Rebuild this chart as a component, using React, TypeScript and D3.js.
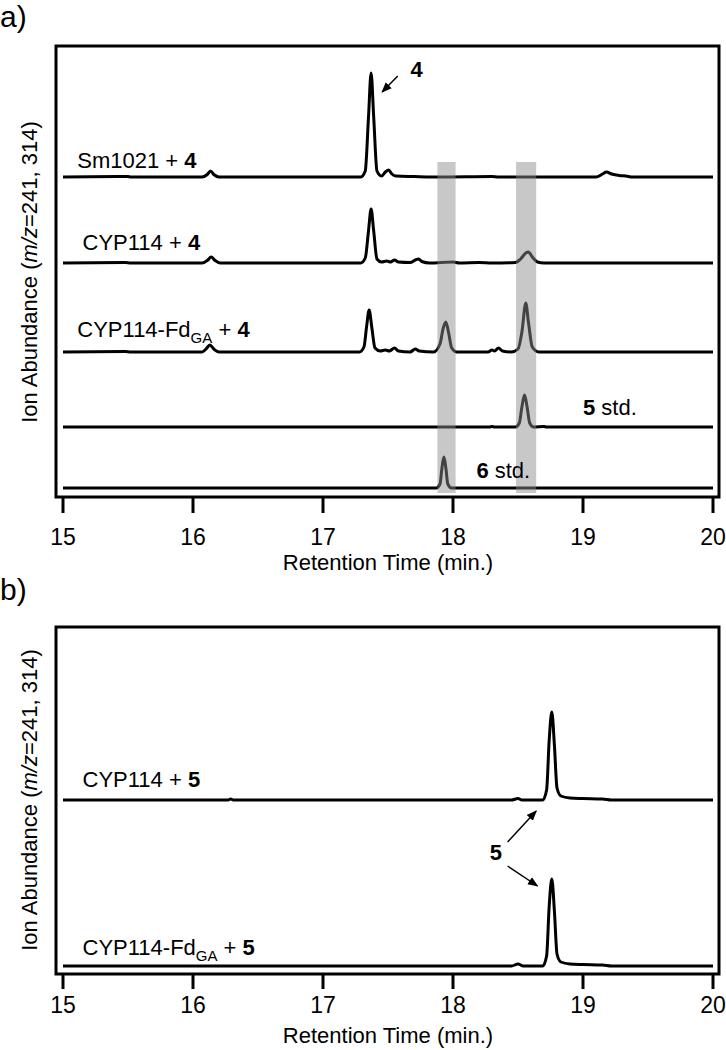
import React from "react";
import * as d3 from "d3";

type Pt = [number, number];

// x-axis
const xTicks = [15, 16, 17, 18, 19, 20];
const xTitle = "Retention Time (min.)";
const yTitleA = "Ion Abundance (";
const yTitleItalic = "m/z";
const yTitleB = "=241, 314)";

// Panel a traces: [retention time (min), abundance above own baseline]
const sm1021_4: Pt[] = [
  [15, 0], [15.5, 0.5], [15.52, 0], [16.07, 0], [16.11, 2.5], [16.135, 6], [16.16, 2.5], [16.2, 0],
  [17.29, 0], [17.325, 6], [17.35, 60], [17.37, 104], [17.39, 60], [17.415, 6], [17.45, 1],
  [17.48, 5], [17.505, 7], [17.53, 3], [17.56, 1], [17.7, 0.5], [17.9, 0], [18.3, 0.5], [18.35, 0],
  [19.1, 0], [19.15, 3], [19.18, 5], [19.22, 3], [19.28, 1.5], [19.33, 1], [19.38, 0], [20, 0],
];
const cyp114_4: Pt[] = [
  [15, 0], [15.48, 0.5], [15.52, 0], [16.07, 0], [16.11, 2.5], [16.14, 6], [16.17, 2.5], [16.21, 0],
  [17.29, 0], [17.325, 5], [17.35, 32], [17.37, 54], [17.39, 32], [17.415, 4], [17.45, 1],
  [17.49, 2], [17.52, 1], [17.55, 3], [17.58, 1], [17.67, 0.5], [17.71, 3], [17.735, 4], [17.76, 1.5],
  [17.82, 0], [18.0, 1], [18.05, 0], [18.2, 0.5], [18.3, 0], [18.48, 0.5], [18.52, 4], [18.56, 10],
  [18.58, 11], [18.61, 6], [18.65, 1], [18.7, 0], [20, 0],
];
const cyp114fd_4: Pt[] = [
  [15, 0], [15.48, 0.5], [15.52, 0], [16.07, 0], [16.1, 3], [16.13, 7], [16.16, 3], [16.2, 0],
  [17.28, 0], [17.315, 5], [17.335, 25], [17.355, 42], [17.375, 25], [17.4, 4], [17.44, 1],
  [17.48, 2], [17.51, 1], [17.55, 4], [17.58, 1], [17.67, 0], [17.71, 3], [17.74, 1], [17.85, 0],
  [17.9, 8], [17.925, 24], [17.945, 30], [17.965, 20], [17.99, 4], [18.03, 0], [18.27, 0],
  [18.3, 2], [18.32, 1], [18.35, 4], [18.38, 1], [18.45, 0], [18.5, 3], [18.53, 20], [18.56, 49],
  [18.58, 30], [18.61, 5], [18.66, 0], [20, 0],
];
const std5: Pt[] = [
  [15, 0], [18.28, 0], [18.3, 0.5], [18.32, 0], [18.48, 0], [18.51, 4], [18.53, 20], [18.55, 32],
  [18.57, 20], [18.59, 4], [18.62, 0], [18.7, 0.5], [18.72, 0], [20, 0],
];
const std6: Pt[] = [
  [15, 0], [17.87, 0], [17.9, 4], [17.915, 20], [17.93, 31], [17.945, 20], [17.96, 4], [17.99, 0], [20, 0],
];

// Panel b traces
const cyp114_5: Pt[] = [
  [15, 0], [16.27, 0], [16.29, 1], [16.31, 0], [18.45, 0], [18.5, 1.5], [18.53, 0], [18.69, 0],
  [18.72, 10], [18.74, 60], [18.76, 88], [18.78, 55], [18.8, 12], [18.83, 4], [18.9, 2], [19.0, 1.5],
  [19.15, 1], [19.22, 0], [20, 0],
];
const cyp114fd_5: Pt[] = [
  [15, 0], [18.45, 0], [18.5, 2], [18.54, 0], [18.69, 0], [18.72, 10], [18.74, 60], [18.76, 87],
  [18.78, 55], [18.8, 12], [18.83, 4], [18.9, 2], [19.0, 1.5], [19.15, 1], [19.22, 0], [20, 0],
];

// stacking offsets (abundance units)
const offsetsA = [320, 234, 145, 70, 9];
const offsetsB = [174, 8];

// trace labels: [main, subscript, bold compound, suffix]
const labelsA = [
  { pre: "Sm1021 + ", sub: "", bold: "4", post: "", t: 15.11, dy: 9 },
  { pre: "CYP114 + ", sub: "", bold: "4", post: "", t: 15.15, dy: 13 },
  { pre: "CYP114-Fd", sub: "GA", bold: "4", post: "", t: 15.11, dy: 15 },
  { pre: "", sub: "", bold: "5", post: " std.", t: 19.0, dy: 12 },
  { pre: "", sub: "", bold: "6", post: " std.", t: 18.18, dy: 10 },
];
const labelsB = [
  { pre: "CYP114 + ", sub: "", bold: "5", post: "", t: 15.15, dy: 13 },
  { pre: "CYP114-Fd", sub: "GA", bold: "5", post: "", t: 15.15, dy: 11 },
];

// highlighted retention windows (min)
const bands: [number, number][] = [[17.88, 18.02], [18.485, 18.64]];
const bandRange: [number, number] = [4, 335];

export default function App() {
  const font = "'Liberation Sans', Arial, Helvetica, sans-serif";
  const x = d3.scaleLinear().domain([15, 20]).range([63, 713]);
  const yA = d3.scaleLinear().domain([0, 450]).range([497, 47]);
  const yB = d3.scaleLinear().domain([0, 347]).range([974, 627]);

  const mkLine = (y: d3.ScaleLinear<number, number>, off: number) =>
    d3.line<Pt>().x((d) => x(d[0])).y((d) => y(d[1] + off)).curve(d3.curveMonotoneX);

  const tracesA = [sm1021_4, cyp114_4, cyp114fd_4, std5, std6];
  const tracesB = [cyp114_5, cyp114fd_5];

  const frame = (top: number, bottom: number) => (
    <rect x={56} y={top} width={663} height={bottom - top} fill="none" stroke="#000" strokeWidth={3} />
  );

  const axis = (bottom: number, tickLen: number, labelY: number, titleY: number) => (
    <g>
      {xTicks.map((t) => (
        <g key={t}>
          <line x1={x(t)} x2={x(t)} y1={bottom + 1} y2={bottom + tickLen} stroke="#000" strokeWidth={3} />
          <text x={x(t)} y={labelY} textAnchor="middle" fontSize={23} fontFamily={font}>{t}</text>
        </g>
      ))}
      <text x={(x(15) + x(20)) / 2} y={titleY} textAnchor="middle" fontSize={22} fontFamily={font}>{xTitle}</text>
    </g>
  );

  const yTitle = (cy: number) => (
    <text transform={`translate(37,${cy}) rotate(-90)`} textAnchor="middle" fontSize={22} fontFamily={font}>
      {yTitleA}<tspan fontStyle="italic">{yTitleItalic}</tspan>{yTitleB}
    </text>
  );

  const label = (l: any, i: number, y: d3.ScaleLinear<number, number>, offs: number[]) => (
    <text key={i} x={x(l.t)} y={y(offs[i] + l.dy)} fontSize={22} fontFamily={font}>
      {l.pre}
      {l.sub ? <tspan fontSize={15} dy={6}>{l.sub}</tspan> : null}
      {l.sub ? <tspan dy={-6}>{" + "}</tspan> : null}
      <tspan fontWeight="bold">{l.bold}</tspan>
      {l.post}
    </text>
  );

  return (
    <svg width={726} height={1050} style={{ position: "absolute", left: 0, top: 0, background: "#fff" }}>
      <defs>
        <marker id="ah" viewBox="0 0 10 10" refX={9} refY={5} markerWidth={7} markerHeight={7} orient="auto">
          <path d="M0,1 L10,5 L0,9 z" fill="#000" />
        </marker>
      </defs>

      {/* panel a */}
      <text x={0} y={27} fontSize={30} fontFamily={font}>a)</text>
      {tracesA.map((tr, i) => (
        <path key={i} d={mkLine(yA, offsetsA[i])(tr) || ""} fill="none" stroke="#000" strokeWidth={3} strokeLinejoin="round" />
      ))}
      {bands.map((b, i) => (
        <rect key={i} x={x(b[0])} width={x(b[1]) - x(b[0])} y={yA(bandRange[1])} height={yA(bandRange[0]) - yA(bandRange[1])}
          fill="rgb(140,140,140)" fillOpacity={0.48} />
      ))}
      {labelsA.map((l, i) => label(l, i, yA, offsetsA))}
      <line x1={x(17.575)} y1={yA(421)} x2={x(17.455)} y2={yA(405)} stroke="#000" strokeWidth={1.5} markerEnd="url(#ah)" />
      <text x={x(17.72)} y={yA(420)} textAnchor="middle" fontSize={22} fontWeight="bold" fontFamily={font}>4</text>
      {frame(46, 497)}
      {axis(497, 16, 545, 570)}
      {yTitle(272)}

      {/* panel b */}
      <text x={0} y={600} fontSize={30} fontFamily={font}>b)</text>
      {tracesB.map((tr, i) => (
        <path key={i} d={mkLine(yB, offsetsB[i])(tr) || ""} fill="none" stroke="#000" strokeWidth={3} strokeLinejoin="round" />
      ))}
      {labelsB.map((l, i) => label(l, i, yB, offsetsB))}
      <text x={x(18.33)} y={yB(114)} textAnchor="middle" fontSize={22} fontWeight="bold" fontFamily={font}>5</text>
      <line x1={x(18.42)} y1={yB(132)} x2={x(18.64)} y2={yB(163)} stroke="#000" strokeWidth={1.5} markerEnd="url(#ah)" />
      <line x1={x(18.42)} y1={yB(108)} x2={x(18.65)} y2={yB(88)} stroke="#000" strokeWidth={1.5} markerEnd="url(#ah)" />
      {frame(627, 974)}
      {axis(974, 15, 1013, 1043)}
      {yTitle(800)}
    </svg>
  );
}
